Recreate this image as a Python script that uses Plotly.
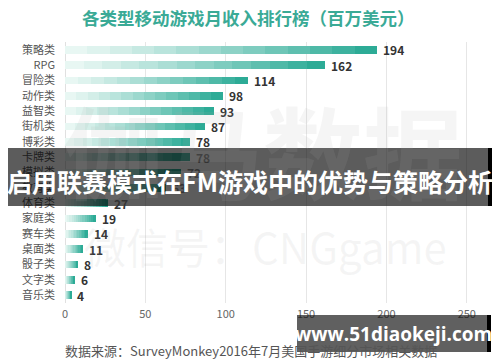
import plotly.graph_objects as go

categories = ["策略类", "RPG", "冒险类", "动作类", "益智类", "街机类", "博彩类", "卡牌类",
              "模拟类", "教育类", "体育类", "家庭类", "赛车类", "桌面类", "骰子类", "文字类", "音乐类"]
values = [194, 162, 114, 98, 93, 87, 78, 78, 72, 63, 27, 19, 14, 11, 8, 6, 4]
x_ticks = [0, 50, 100, 150, 200, 250]

title_text = "各类型移动游戏月收入排行榜（百万美元）"
source_text = "数据来源：SurveyMonkey2016年7月美国手游细分市场相关数据"
banner_text = "启用联赛模式在FM游戏中的优势与策略分析"
site_text = "www.51diaokeji.com"

FONT = "Noto Sans CJK SC"
light = (236, 248, 245)
dark = (36, 168, 146)
N = 14

OFF = 8  # page body margin offset
W, H = 500, 362
# desired visible plot area: x 65..470, y 42..303
L = 65 - OFF
R = W - (470 - OFF)
T = 42 - OFF
B = H - (303 - OFF)
PW, PH = W - L - R, H - T - B

fig = go.Figure()
for i in range(N):
    t = ((i + 0.5) / N) ** 1.2
    c = tuple(int(round(light[k] + (dark[k] - light[k]) * t)) for k in range(3))
    fig.add_trace(go.Bar(
        y=categories, x=[v / N for v in values], orientation="h",
        marker=dict(color="rgb(%d,%d,%d)" % c, line=dict(width=0)),
        width=0.5, showlegend=False, hoverinfo="skip"))

fig.update_layout(
    width=W, height=H,
    barmode="stack",
    paper_bgcolor="white", plot_bgcolor="white",
    margin=dict(l=L, r=R, t=T, b=B, autoexpand=False),
    font=dict(family=FONT, color="#555555"),
    xaxis=dict(range=[0, 252], tickvals=x_ticks, showgrid=True, gridcolor="#e6e6e6",
               gridwidth=1, zeroline=True, zerolinecolor="#e0e0e0", zerolinewidth=1,
               tickfont=dict(size=11, color="#666666"), ticklabelstandoff=3,
               automargin=False, fixedrange=True),
    yaxis=dict(type="category", range=[len(categories) - 0.5, -0.5], showgrid=False,
               tickfont=dict(size=11, color="#555555"), ticks="", ticklabelstandoff=9,
               automargin=False),
)

annotations = []
for c, v in zip(categories, values):
    annotations.append(dict(x=v, y=c, xref="x", yref="y", text=str(v), showarrow=False,
                            xanchor="left", yanchor="middle", xshift=4,
                            font=dict(family=FONT, size=12, color="#333333", weight="bold")))

def fx(px):
    return (px - OFF - L) / PW

def fy(py):
    return (H - B - (py - OFF)) / PH

def pa(px, py, **kw):
    d = dict(xref="paper", yref="paper", x=fx(px), y=fy(py),
             showarrow=False, xanchor="center", yanchor="middle")
    d.update(kw)
    return d

annotations += [
    pa(248, 18, text=title_text, font=dict(size=17.5, color="#3aaa96", family=FONT, weight="bold")),
    pa(263, 148, text="伽马数据", font=dict(size=100, color="rgba(170,170,170,0.12)", family=FONT, weight="bold")),
    pa(265, 245, text="微信号：CNGgame", font=dict(size=42, color="rgba(170,170,170,0.12)", family=FONT)),
    pa(63, 350, text=source_text, xanchor="left", font=dict(size=13, color="#555555", family=FONT)),
    pa(250, 181, text=banner_text, font=dict(size=25, color="white", family=FONT, weight="bold")),
    pa(393, 334, text=site_text, font=dict(size=19, color="white", family="Open Sans", weight="bold")),
]
fig.update_layout(annotations=annotations)

def rect(x0, y0, x1, y1, color):
    return dict(type="rect", xref="paper", yref="paper",
                x0=fx(x0), x1=fx(x1), y0=fy(y1), y1=fy(y0),
                fillcolor=color, line=dict(width=0), layer="above")

fig.update_layout(shapes=[
    rect(6, 148, 488, 206, "rgba(0,0,0,0.64)"),
    rect(2, 148, 6, 206, "black"),
    rect(488, 148, 500, 206, "black"),
    rect(297, 315, 487, 352, "rgba(20,20,20,0.68)"),
    rect(487, 315, 491, 352, "black"),
])

fig.write_html("out.html")
